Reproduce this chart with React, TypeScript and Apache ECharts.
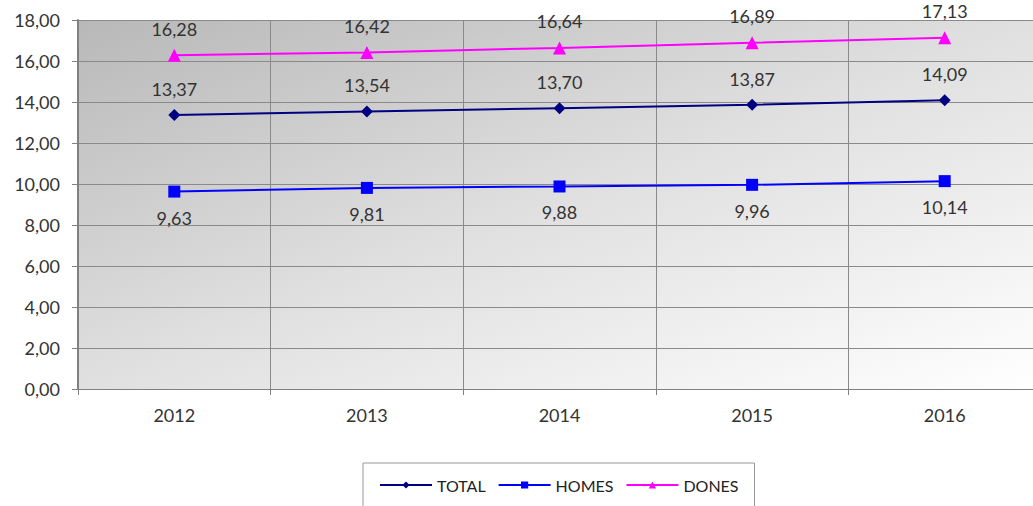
import React, { useEffect, useRef } from "react";
import * as echarts from "echarts";

const categories = ["2012", "2013", "2014", "2015", "2016"];
const total = [13.37, 13.54, 13.7, 13.87, 14.09];
const homes = [9.63, 9.81, 9.88, 9.96, 10.14];
const dones = [16.28, 16.42, 16.64, 16.89, 17.13];

const fmt = (v: number) => v.toFixed(2).replace(".", ",");
const FONT = "Lato, 'Open Sans', sans-serif";

export default function App() {
  const ref = useRef<HTMLDivElement>(null);
  useEffect(() => {
    document.body.style.margin = "0";
    document.body.style.overflow = "hidden";
    const chart = echarts.init(ref.current!, null, { renderer: "svg" });
    const mkSeries = (name: string, data: number[], color: string, symbol: string, size: number, pos: string) => ({
      name,
      type: "line",
      data,
      symbol,
      symbolSize: size,
      lineStyle: { color, width: 2 },
      itemStyle: { color },
      label: {
        show: true,
        position: pos,
        distance: 11,
        formatter: (p: any) => fmt(p.value),
        color: "#333",
        fontSize: 18,
        fontFamily: FONT,
      },
    });
    chart.setOption({
      animation: false,
      backgroundColor: "#ffffff",
      grid: {
        left: 78,
        top: 20,
        width: 963,
        height: 369,
        show: true,
        borderWidth: 0,
        backgroundColor: {
          type: "linear",
          x: 0,
          y: 0,
          x2: 1,
          y2: 1,
          colorStops: [
            { offset: 0, color: "#b8b8b8" },
            { offset: 0.5, color: "#e0e0e0" },
            { offset: 1, color: "#ffffff" },
          ],
        },
      },
      legend: {
        left: 363,
        top: 463,
        padding: [14, 16, 14, 16],
        itemGap: 12,
        itemWidth: 52,
        itemHeight: 9,
        borderColor: "#999",
        borderWidth: 1,
        backgroundColor: "#fff",
        textStyle: { fontSize: 16, color: "#222", fontFamily: FONT },
        data: ["TOTAL", "HOMES", "DONES"],
      },
      xAxis: {
        type: "category",
        data: categories,
        boundaryGap: true,
        axisLine: { show: true, lineStyle: { color: "#808080", width: 1 } },
        axisTick: { show: true, length: 6, lineStyle: { color: "#808080" } },
        axisLabel: { color: "#333", fontSize: 18, fontFamily: FONT, margin: 17 },
        splitLine: { show: true, lineStyle: { color: "#8a8a8a", width: 1 } },
      },
      yAxis: {
        type: "value",
        min: 0,
        max: 18,
        interval: 2,
        axisLine: { show: true, lineStyle: { color: "#808080", width: 2 } },
        axisTick: { show: true, length: 6, lineStyle: { color: "#808080" } },
        axisLabel: {
          color: "#333",
          fontSize: 18,
          fontFamily: FONT,
          margin: 18,
          formatter: (v: number) => fmt(v),
        },
        splitLine: { show: true, lineStyle: { color: "#8a8a8a", width: 1 } },
      },
      series: [
        mkSeries("TOTAL", total, "#000080", "diamond", 12, "top"),
        mkSeries("HOMES", homes, "#0000ff", "rect", 12, "bottom"),
        mkSeries("DONES", dones, "#ff00ff", "triangle", 13, "top"),
      ],
    });
    return () => chart.dispose();
  }, []);
  return (
    <div style={{ position: "fixed", left: 0, top: 0, width: 1033, height: 506, overflow: "hidden" }}>
      <div ref={ref} style={{ width: 1060, height: 506 }} />
    </div>
  );
}
